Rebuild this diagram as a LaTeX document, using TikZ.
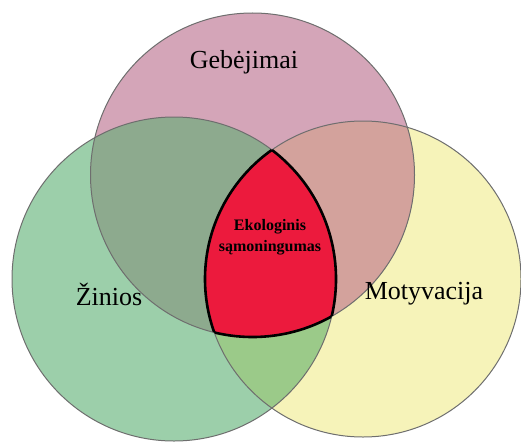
\documentclass[tikz,border=0pt]{standalone}
\usepackage{fontspec}
\setmainfont{Liberation Serif}
\definecolor{cpink}{HTML}{D4A5B8}
\definecolor{cgreen}{HTML}{9CCFAA}
\definecolor{cyellow}{HTML}{F6F3B9}
\definecolor{cpg}{HTML}{8DAA8E}
\definecolor{cpy}{HTML}{D3A29C}
\definecolor{cgy}{HTML}{9BCA89}
\definecolor{cred}{HTML}{EC1A3D}
\definecolor{cedge}{HTML}{6E6E6E}
\tikzset{
  rim/.style={draw=cedge, line width=1pt},
  lbl/.style={font=\fontsize{26}{30}\selectfont, text=black},
  core/.style={font=\bfseries\fontsize{16}{21}\selectfont, align=center, text=black}
}
\begin{document}
\begin{tikzpicture}[x=1pt,y=-1pt]
\useasboundingbox (0,0) rectangle (521,441);
\def\rT{162}\def\rG{162}\def\rY{158}
\coordinate (T) at (252.5,175);
\coordinate (G) at (174,279);
\coordinate (Y) at (363,279);
% base fills
\fill[cgreen] (G) circle (\rG);
\fill[cyellow] (Y) circle (\rY);
\fill[cpink] (T) circle (\rT);
% pairwise overlaps
\begin{scope}\clip (T) circle (\rT); \fill[cpg] (G) circle (\rG); \end{scope}
\begin{scope}\clip (T) circle (\rT); \fill[cpy] (Y) circle (\rY); \end{scope}
\begin{scope}\clip (G) circle (\rG); \fill[cgy] (Y) circle (\rY); \end{scope}
% triple overlap
\begin{scope}\clip (T) circle (\rT); \clip (G) circle (\rG); \fill[cred] (Y) circle (\rY); \end{scope}
% outlines
\draw[rim] (G) circle (\rG);
\draw[rim] (Y) circle (\rY);
\draw[rim] (T) circle (\rT);
% red border
\begin{scope}\clip (T) circle (\rT); \clip (G) circle (\rG); \draw[black, line width=2.6pt] (Y) circle (\rY); \end{scope}
\begin{scope}\clip (T) circle (\rT); \clip (Y) circle (\rY); \draw[black, line width=2.6pt] (G) circle (\rG); \end{scope}
\begin{scope}\clip (G) circle (\rG); \clip (Y) circle (\rY); \draw[black, line width=2.6pt] (T) circle (\rT); \end{scope}
% labels
\node[lbl] (geb) at (244,62) {Gebėjimai};
\node[lbl] (zin) at (109,294) {Žinios};
\node[lbl] (mot) at (424,294) {Motyvacija};
\node[core] (eko) at (270,237) {Ekologinis\\sąmoningumas};
\end{tikzpicture}
\end{document}
